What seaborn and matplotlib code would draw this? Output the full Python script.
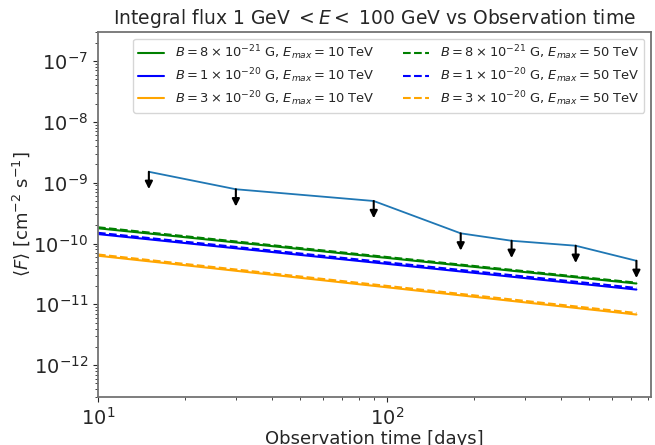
import matplotlib
matplotlib.use("Agg")
import matplotlib.pyplot as plt
import seaborn as sns
import pandas as pd

# upper limits from the light curve
ul_days = [15, 30, 90, 180, 270, 450, 730]
ul_flux = [1.51e-9, 7.8e-10, 5.0e-10, 1.47e-10, 1.11e-10, 9.2e-11, 5.2e-11]

# model curves (start and end of observation time range)
model_days = [10, 730]
flux_b8_10 = [1.78e-10, 2.20e-11]
flux_b10_10 = [1.43e-10, 1.75e-11]
flux_b30_10 = [6.3e-11, 6.8e-12]
flux_b8_50 = [1.85e-10, 2.27e-11]
flux_b10_50 = [1.50e-10, 1.86e-11]
flux_b30_50 = [6.6e-11, 7.2e-12]

labels = [
    r'$B = 8\times10^{-21}$ G, $E_{max} = 10$ TeV',
    r'$B = 1\times10^{-20}$ G, $E_{max} = 10$ TeV',
    r'$B = 3\times10^{-20}$ G, $E_{max} = 10$ TeV',
    r'$B = 8\times10^{-21}$ G, $E_{max} = 50$ TeV',
    r'$B = 1\times10^{-20}$ G, $E_{max} = 50$ TeV',
    r'$B = 3\times10^{-20}$ G, $E_{max} = 50$ TeV',
]
colors = ['green', 'blue', 'orange', 'green', 'blue', 'orange']
styles = ['-', '-', '-', '--', '--', '--']
series = [flux_b8_10, flux_b10_10, flux_b30_10, flux_b8_50, flux_b10_50, flux_b30_50]

sns.set_style('ticks')
plt.rcParams['axes.edgecolor'] = '0.45'
plt.rcParams['axes.linewidth'] = 1.3

fig = plt.figure(figsize=(6.55, 4.45), dpi=100)
ax = fig.add_axes([0.1496, 0.1079, 0.8443, 0.8202])

for lab, col, ls, vals in zip(labels, colors, styles, series):
    df = pd.DataFrame({'days': model_days, 'flux': vals})
    sns.lineplot(data=df, x='days', y='flux', ax=ax, color=col, linestyle=ls,
                 label=lab, linewidth=1.5)

ul_df = pd.DataFrame({'days': ul_days, 'flux': ul_flux})
sns.lineplot(data=ul_df, x='days', y='flux', ax=ax, color='C0', linewidth=1.3)

# downward arrows marking the upper limits
for d, f in zip(ul_days, ul_flux):
    ax.annotate('', xy=(d, f * 0.52), xytext=(d, f),
                arrowprops=dict(arrowstyle='-|>', color='black', lw=1.5,
                                mutation_scale=11, shrinkA=0, shrinkB=0))

ax.set_xscale('log')
ax.set_yscale('log')
ax.set_xlim(10, 820)
ax.set_ylim(3e-13, 3e-7)
ax.set_title(r'Integral flux 1 GeV $<E<$ 100 GeV vs Observation time', fontsize=13.5)
ax.set_xlabel('Observation time [days]', fontsize=13, labelpad=1)
ax.set_ylabel(r'$\langle F \rangle$ [cm$^{-2}$ s$^{-1}$]', fontsize=13, labelpad=1)
ax.tick_params(axis='both', which='major', labelsize=14)
ax.legend(loc='upper right', ncol=2, fontsize=9.4, frameon=True,
          labelspacing=0.3, columnspacing=2.2, borderpad=0.4, handlelength=2.0)

fig.savefig('out.png', dpi=100)
